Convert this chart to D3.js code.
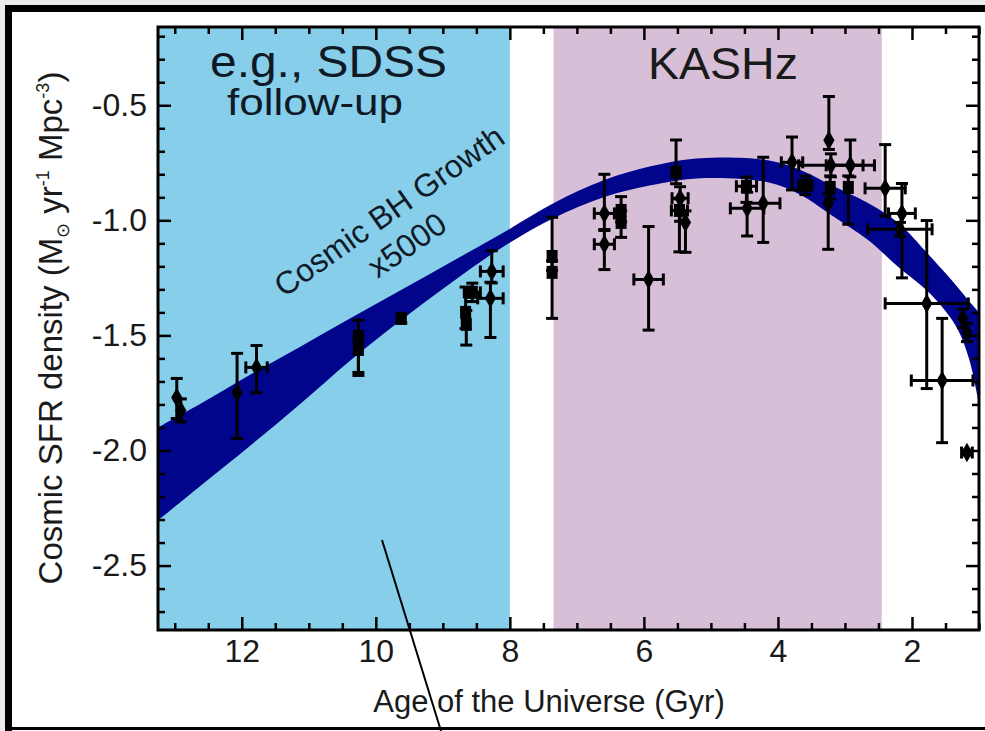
<!DOCTYPE html>
<html>
<head>
<meta charset="utf-8">
<script src="https://cdn.jsdelivr.net/npm/d3@7"></script>
<style>
  body { margin: 0; background: #ffffff; }
  svg { display: block; }
  text { font-family: "Liberation Sans", Arial, Helvetica, sans-serif; }
</style>
</head>
<body>
<svg id="chart" width="985" height="731"></svg>
<script>
// ---- axis ticks ----
const xTickValues = [12, 10, 8, 6, 4, 2];
const yTickValues = [-0.5, -1.0, -1.5, -2.0, -2.5];

// ---- shaded survey ranges (age in Gyr) ----
const regionNames = ["SDSS", "KASHz"];
const regionFrom = [13.25, 7.35];
const regionTo = [8.0, 2.45];

// ---- cosmic BH growth band (scaled x5000), log density ----
const bandAge   = [13.25, 12.61, 11.87, 11.12, 10.38, 9.63, 8.89, 8.14, 7.35, 6.6, 5.9, 5.16, 4.15, 3.65, 3.2, 2.65, 2.2, 1.75, 1.35, 1.15, 1.0];
const bandUpper = [-1.900, -1.796, -1.670, -1.548, -1.426, -1.304, -1.183, -1.061, -0.926, -0.826, -0.765, -0.730, -0.739, -0.783, -0.848, -0.926, -1.013, -1.15, -1.28, -1.35, -1.40];
const bandLower = [-2.304, -2.152, -1.978, -1.796, -1.609, -1.435, -1.274, -1.122, -0.991, -0.900, -0.848, -0.817, -0.835, -0.891, -0.978, -1.087, -1.204, -1.313, -1.457, -1.60, -1.80];

// ---- cosmic SFR density measurements ----
const ptAge   = [12.97, 12.91, 12.07, 11.78, 10.26, 10.26, 9.62, 8.66, 8.65, 8.56, 8.29, 8.27, 7.37, 7.37, 6.59, 6.59, 6.34, 6.34, 5.93, 5.52, 5.46, 5.47, 5.38, 4.47, 4.46, 4.22, 3.79, 3.59, 3.24, 3.21, 3.22, 3.25, 2.92, 2.95, 2.40, 2.15, 2.18, 1.78, 1.55, 1.24, 1.18, 1.18];
const ptValue = [-1.77, -1.826, -1.748, -1.639, -1.504, -1.561, -1.426, -1.40, -1.452, -1.313, -1.339, -1.222, -1.157, -1.226, -0.970, -1.104, -0.957, -1.009, -1.257, -0.791, -0.904, -0.957, -1.009, -0.852, -0.948, -0.926, -0.748, -0.848, -0.652, -0.761, -0.857, -0.926, -0.761, -0.857, -0.861, -0.970, -1.039, -1.361, -1.696, -1.426, -1.487, -2.009];
const ptErrUp = [0.083, 0.05, 0.17, 0.095, 0.07, 0.05, 0.02, 0.11, 0.06, 0.04, 0.07, 0.09, 0.17, 0.05, 0.17, 0.06, 0.06, 0.05, 0.23, 0.14, 0.05, 0.05, 0.05, 0.04, 0.07, 0.20, 0.11, 0.04, 0.19, 0.05, 0.05, 0.04, 0.11, 0.05, 0.19, 0.13, 0.03, 0.36, 0.27, 0.04, 0.04, 0.01];
const ptErrDn = [0.091, 0.05, 0.20, 0.11, 0.17, 0.10, 0.02, 0.07, 0.09, 0.04, 0.17, 0.05, 0.06, 0.20, 0.07, 0.11, 0.05, 0.065, 0.22, 0.05, 0.10, 0.18, 0.13, 0.07, 0.12, 0.17, 0.12, 0.04, 0.04, 0.05, 0.05, 0.20, 0.05, 0.16, 0.12, 0.28, 0.03, 0.37, 0.27, 0.04, 0.04, 0.01];
const ptErrAge = [0, 0, 0, 0.16, 0, 0, 0, 0, 0, 0.12, 0.19, 0.17, 0, 0, 0.15, 0.15, 0, 0, 0.22, 0, 0.12, 0.12, 0, 0.15, 0.25, 0.25, 0.16, 0.10, 0, 0.48, 0, 0, 0.36, 0, 0.30, 0.20, 0.48, 0.62, 0.46, 0, 0, 0.08];
const ptShape = ["d","d","d","d","s","s","s","s","s","s","d","d","s","s","d","d","s","s","d","s","d","s","d","s","d","d","d","s","d","d","s","d","d","s","d","d","d","d","d","d","d","d"];

// ---- layout ----
const W = 985, H = 731;
const plot = { left: 158, right: 979, top: 27, bottom: 630 };

const svg = d3.select("#chart");

const x = d3.scaleLinear().domain([13.25, 1.0]).range([plot.left, plot.right]);
const y = d3.scaleLinear().domain([-2.78, -0.16]).range([plot.bottom, plot.top]);

// tick labels with a plain hyphen for negatives
const fmtY = v => v.toFixed(1);

// page background and outer frame
svg.append("rect").attr("width", W).attr("height", H).attr("fill", "#ececec");
svg.append("rect").attr("x", 5).attr("y", 5).attr("width", W).attr("height", H - 5).attr("fill", "#ffffff");
svg.append("rect").attr("x", 5).attr("y", 5).attr("width", W).attr("height", 7).attr("fill", "#000");
svg.append("rect").attr("x", 5).attr("y", 5).attr("width", 7).attr("height", H - 5).attr("fill", "#000");
svg.append("rect").attr("x", 5).attr("y", 727).attr("width", W).attr("height", 3).attr("fill", "#000");

svg.append("clipPath").attr("id", "plotclip")
  .append("rect").attr("x", plot.left).attr("y", plot.top)
  .attr("width", plot.right - plot.left).attr("height", plot.bottom - plot.top);

const g = svg.append("g").attr("clip-path", "url(#plotclip)");

// shaded ranges
const regionFill = ["#87ceeb", "#d8bfd8"];
g.selectAll("rect.region").data(regionNames).join("rect")
  .attr("class", "region")
  .attr("x", (d, i) => x(regionFrom[i]))
  .attr("width", (d, i) => x(regionTo[i]) - x(regionFrom[i]))
  .attr("y", plot.top).attr("height", plot.bottom - plot.top)
  .attr("fill", (d, i) => regionFill[i]);

// BH growth band
const bandData = bandAge.map((a, i) => ({ a, hi: bandUpper[i], lo: bandLower[i] }));
const area = d3.area()
  .x(d => x(d.a))
  .y0(d => y(d.lo))
  .y1(d => y(d.hi))
  .curve(d3.curveCatmullRom.alpha(0.5));
g.append("path").datum(bandData).attr("d", area).attr("fill", "#00058c");

// measurements with error bars
const pts = ptAge.map((a, i) => ({ a, v: ptValue[i], up: ptErrUp[i], dn: ptErrDn[i], ex: ptErrAge[i], s: ptShape[i] }));
const cap = 6;
const pg = g.append("g").attr("stroke", "#000").attr("stroke-width", 3).attr("fill", "#000");
pts.forEach(p => {
  const cx = x(p.a), cy = y(p.v);
  const yt = y(p.v + p.up), yb = y(p.v - p.dn);
  pg.append("line").attr("x1", cx).attr("x2", cx).attr("y1", yt).attr("y2", yb);
  pg.append("line").attr("x1", cx - cap).attr("x2", cx + cap).attr("y1", yt).attr("y2", yt);
  pg.append("line").attr("x1", cx - cap).attr("x2", cx + cap).attr("y1", yb).attr("y2", yb);
  if (p.ex > 0) {
    const xl = x(p.a + p.ex), xr = x(p.a - p.ex);
    pg.append("line").attr("x1", xl).attr("x2", xr).attr("y1", cy).attr("y2", cy);
    pg.append("line").attr("x1", xl).attr("x2", xl).attr("y1", cy - cap).attr("y2", cy + cap);
    pg.append("line").attr("x1", xr).attr("x2", xr).attr("y1", cy - cap).attr("y2", cy + cap);
  }
  if (p.s === "s") {
    pg.append("rect").attr("x", cx - 5.5).attr("y", cy - 6.5).attr("width", 11).attr("height", 13).attr("stroke", "none");
  } else {
    pg.append("path").attr("d", d3.symbol(d3.symbolDiamond, 110)()).attr("transform", `translate(${cx},${cy})`).attr("stroke", "none");
  }
});

// axes with inward ticks
const tickStyle = sel => {
  sel.select(".domain").remove();
  sel.selectAll(".tick line").attr("stroke", "#000").attr("stroke-width", 2.5);
  sel.selectAll("text").attr("fill", "#1a1a1a").style("font-size", "32px");
};
const majorLen = 13, minorLen = 7;
const xMinor = d3.range(1.0, 13.25, 0.5).filter(v => Math.abs(v / 2 - Math.round(v / 2)) > 1e-6);
const yMinor = d3.range(-2.7, -0.15, 0.1).map(v => +v.toFixed(1)).filter(v => Math.abs(v * 2 - Math.round(v * 2)) > 1e-6);

svg.append("g").attr("transform", `translate(0,${plot.bottom})`)
  .call(d3.axisBottom(x).tickValues(xTickValues).tickSize(-majorLen).tickPadding(9).tickFormat(d => String(d)))
  .call(tickStyle);
svg.append("g").attr("transform", `translate(0,${plot.bottom})`)
  .call(d3.axisBottom(x).tickValues(xMinor).tickSize(-minorLen).tickFormat(""))
  .call(tickStyle);
svg.append("g").attr("transform", `translate(0,${plot.top})`)
  .call(d3.axisTop(x).tickValues(xTickValues).tickSize(-majorLen).tickFormat(""))
  .call(tickStyle);
svg.append("g").attr("transform", `translate(0,${plot.top})`)
  .call(d3.axisTop(x).tickValues(xMinor).tickSize(-minorLen).tickFormat(""))
  .call(tickStyle);

svg.append("g").attr("transform", `translate(${plot.left},0)`)
  .call(d3.axisLeft(y).tickValues(yTickValues).tickSize(-majorLen).tickPadding(11).tickFormat(fmtY))
  .call(tickStyle);
svg.append("g").attr("transform", `translate(${plot.left},0)`)
  .call(d3.axisLeft(y).tickValues(yMinor).tickSize(-minorLen).tickFormat(""))
  .call(tickStyle);
svg.append("g").attr("transform", `translate(${plot.right},0)`)
  .call(d3.axisRight(y).tickValues(yTickValues).tickSize(-majorLen).tickFormat(""))
  .call(tickStyle);
svg.append("g").attr("transform", `translate(${plot.right},0)`)
  .call(d3.axisRight(y).tickValues(yMinor).tickSize(-minorLen).tickFormat(""))
  .call(tickStyle);

// plot frame
svg.append("rect").attr("x", plot.left).attr("y", plot.top)
  .attr("width", plot.right - plot.left).attr("height", plot.bottom - plot.top)
  .attr("fill", "none").attr("stroke", "#000").attr("stroke-width", 3);

// axis titles
svg.append("text").attr("x", 549).attr("y", 712).attr("text-anchor", "middle")
  .attr("fill", "#1a1a1a").style("font-size", "31px").text("Age of the Universe (Gyr)");

const yt = svg.append("text").attr("transform", "translate(62,328) rotate(-90)")
  .attr("text-anchor", "middle").attr("fill", "#1a1a1a").style("font-size", "33px");
yt.append("tspan").text("Cosmic SFR density (M");
yt.append("tspan").attr("dy", 7).style("font-size", "18px").text("⊙");
yt.append("tspan").attr("dy", -7).text(" yr");
yt.append("tspan").attr("dy", -13).style("font-size", "18px").text("-1");
yt.append("tspan").attr("dy", 13).text(" Mpc");
yt.append("tspan").attr("dy", -13).style("font-size", "18px").text("-3");
yt.append("tspan").attr("dy", 13).text(")");

// region labels
svg.append("text").attr("x", 210).attr("y", 77).attr("fill", "#0f1a26")
  .style("font-size", "44px").attr("textLength", 237).attr("lengthAdjust", "spacingAndGlyphs").text("e.g., SDSS");
svg.append("text").attr("x", 227).attr("y", 115).attr("fill", "#0f1a26")
  .style("font-size", "36px").attr("textLength", 176).attr("lengthAdjust", "spacingAndGlyphs").text("follow-up");
svg.append("text").attr("x", 648).attr("y", 79).attr("fill", "#1a1a1a")
  .style("font-size", "45px").attr("textLength", 150).attr("lengthAdjust", "spacingAndGlyphs").text("KASHz");

// band label
svg.append("text").attr("transform", "translate(389,211) rotate(-35)")
  .attr("text-anchor", "middle").attr("dominant-baseline", "central")
  .attr("fill", "#0f1a26").style("font-size", "32px").text("Cosmic BH Growth");
svg.append("text").attr("transform", "translate(407,245) rotate(-35)")
  .attr("text-anchor", "middle").attr("dominant-baseline", "central")
  .attr("fill", "#0f1a26").style("font-size", "32px").text("x5000");

// pointer line
svg.append("line").attr("x1", 382).attr("y1", 540).attr("x2", 441).attr("y2", 731)
  .attr("stroke", "#000").attr("stroke-width", 2);
</script>
</body>
</html>
